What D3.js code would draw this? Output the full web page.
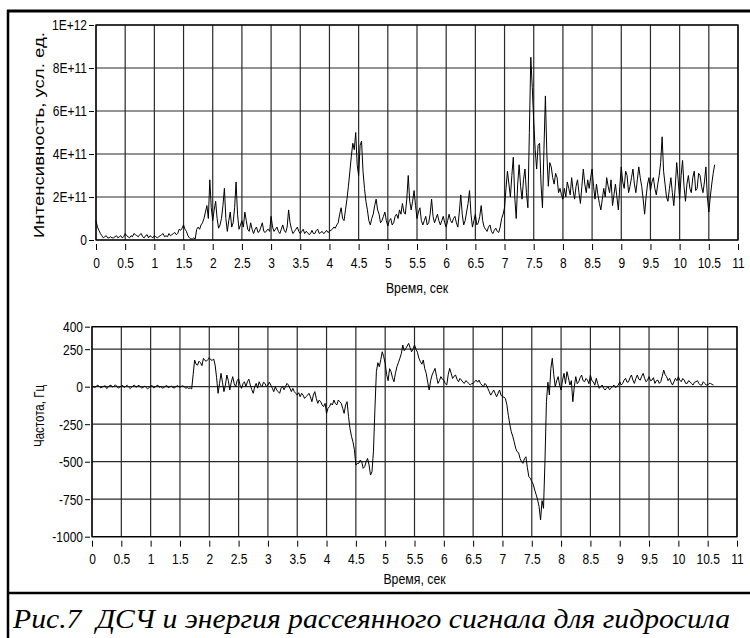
<!DOCTYPE html>
<html>
<head>
<meta charset="utf-8">
<script src="https://cdn.jsdelivr.net/npm/d3@7"></script>
<style>
  body { margin: 0; background: #fff; }
  svg { display: block; }
  .tick text { font-family: "Liberation Sans", Arial, sans-serif; font-size: 15px; fill: #000; }
  .tick line { stroke: #000; stroke-width: 1; }
  .axis-title { font-family: "Liberation Sans", Arial, sans-serif; font-size: 15px; fill: #000; }
</style>
</head>
<body>
<svg id="fig" width="750" height="638"></svg>
<script>
// Sampling interval of both recorded signals, seconds
const sampleStep = 0.025;

// Scattered signal intensity, in units of 1E+11 (arb. units)
const intensity = [
  0.9, 0.6, 0.45, 0.3, 0.2, 0.1, 0.15, 0.2, 0.1, 0.1, 0.15, 0.1, 0.1, 0.15, 0.2, 0.1, 0.15, 0.2, 0.1, 0.15,
  0.3, 0.2, 0.15, 0.1, 0.2, 0.15, 0.3, 0.25, 0.2, 0.15, 0.25, 0.3, 0.15, 0.1, 0.2, 0.25, 0.1, 0.2, 0.15, 0.1,
  0.2, 0.15, 0.1, 0.15, 0.2, 0.25, 0.3, 0.15, 0.2, 0.15, 0.3, 0.2, 0.25, 0.3, 0.35, 0.25, 0.3, 0.5, 0.45, 0.55,
  0.7, 0.5, 0.4, 0.2, 0.1, 0.05, 0.05, 0.1, 0.05, 0.5, 0.6, 0.5, 0.7, 0.8, 1.0, 1.3, 1.6, 1.0, 2.8, 1.5,
  0.9, 1.4, 1.8, 1.0, 0.55, 0.7, 1.0, 1.6, 2.4, 1.0, 0.4, 0.9, 1.3, 0.6, 0.8, 1.5, 2.7, 1.2, 0.5, 0.7,
  0.9, 0.6, 1.3, 0.9, 0.5, 0.4, 0.8, 0.5, 0.3, 0.5, 0.6, 0.35, 0.4, 0.6, 0.8, 0.4, 0.35, 0.45, 0.5, 0.4,
  1.1, 0.6, 0.4, 0.5, 0.6, 0.4, 0.3, 0.5, 0.7, 0.45, 0.35, 0.6, 1.4, 0.8, 0.5, 0.3, 0.4, 0.5, 0.6, 0.4,
  0.3, 0.4, 0.5, 0.3, 0.4, 0.35, 0.25, 0.3, 0.45, 0.3, 0.3, 0.45, 0.5, 0.3, 0.35, 0.4, 0.3, 0.35, 0.45, 0.35,
  0.4, 0.45, 0.5, 0.6, 0.55, 0.7, 0.8, 1.2, 1.5, 1.0, 0.9, 1.4, 1.9, 2.5, 3.2, 3.9, 4.5, 4.2, 5.0, 3.5,
  3.0, 4.4, 4.6, 3.2, 2.4, 1.8, 1.4, 0.9, 0.7, 1.0, 1.2, 1.6, 1.9, 1.4, 1.2, 0.8, 0.9, 1.1, 1.3, 0.9,
  0.65, 0.9, 1.0, 0.7, 0.8, 1.1, 1.2, 1.0, 1.4, 1.2, 1.7, 1.3, 1.2, 1.9, 3.0, 1.8, 1.4, 1.8, 2.3, 1.6,
  1.0, 1.3, 1.5, 0.9, 0.7, 0.9, 1.1, 0.7, 0.8, 1.2, 1.9, 1.1, 0.8, 1.0, 1.2, 0.9, 0.7, 0.9, 1.1, 0.8,
  0.6, 0.9, 1.2, 0.9, 0.8, 1.0, 1.1, 0.8, 0.6, 1.3, 2.1, 1.2, 0.7, 0.9, 1.3, 1.7, 2.3, 1.2, 0.6, 0.9,
  1.2, 0.7, 0.8, 1.1, 1.6, 0.9, 0.6, 0.5, 0.4, 0.6, 0.7, 0.4, 0.3, 0.45, 0.55, 0.4, 0.35, 0.6, 1.0, 1.2,
  1.5, 2.4, 3.2, 2.6, 2.0, 3.0, 3.85, 2.0, 1.0, 2.6, 3.5, 2.5, 1.9, 2.8, 3.3, 2.2, 1.5, 5.0, 8.5, 7.1,
  5.5, 4.2, 3.3, 4.4, 4.5, 2.6, 1.5, 4.2, 6.7, 4.0, 2.5, 3.6, 3.4, 2.9, 2.6, 3.1, 2.9, 2.2, 2.4, 2.1,
  1.9, 2.4, 2.0, 2.7, 2.4, 2.1, 2.9, 2.3, 1.9, 2.5, 2.8, 2.2, 1.7, 2.5, 3.3, 2.6, 2.2, 2.8, 2.4, 2.9,
  3.3, 2.5, 1.9, 2.6, 2.1, 1.7, 1.4, 1.9, 2.4, 2.0, 2.9, 2.5, 2.2, 2.8, 1.6, 2.1, 2.6, 2.0, 1.4, 2.5,
  3.4, 2.7, 2.4, 3.2, 3.0, 2.2, 2.5, 2.9, 3.3, 2.6, 2.2, 2.8, 3.4, 2.9, 2.5, 1.9, 1.2, 2.0, 2.6, 2.9,
  2.3, 2.7, 2.9, 2.4, 2.1, 2.6, 3.0, 3.6, 4.8, 3.2, 2.6, 2.0, 1.8, 2.4, 2.9, 2.2, 1.6, 2.5, 3.6, 2.8,
  1.9, 3.0, 3.7, 2.5, 1.8, 2.6, 3.0, 2.4, 2.2, 2.9, 3.2, 2.3, 2.4, 3.1, 3.0, 2.5, 2.2, 2.7, 3.4, 2.0,
  1.3, 2.0, 2.6, 3.1, 3.5
];
const intensityUnit = 1e11;

// Doppler frequency shift, Hz
const frequency = [
  5, -2, -5, 4, 10, 2, -8, -3, 3, 6, -12, -4, 8, 10, -3, 4, 12, 2, -10, -2,
  5, 8, -6, 2, 9, -3, -12, -5, 6, 10, -4, 3, 10, -2, -9, -4, 4, -6, -14, -5,
  2, 8, -8, -2, 6, 10, -5, 2, -10, -6, 3, 8, -7, -2, 5, -4, -9, -3, 8, 2,
  -4, 3, 6, -2, -10, -6, -12, -8, -15, 80, 178, 150, 144, 170, 160, 140, 189, 175, 170, 180,
  193, 180, 175, 185, 144, 60, -44, 20, 89, 30, -33, 10, 78, 40, -22, 30, 67, 20, 0, 40,
  55, 10, -11, 20, 33, 0, 33, 50, 11, -20, -44, 0, 22, -10, 33, 10, 0, 30, 22, 0,
  11, 30, 11, -10, -33, 0, -22, -33, -44, -10, 0, -20, 0, 22, 11, -10, -33, -11, -33, -44,
  -56, -40, -67, -44, -56, -78, -67, -56, -44, -67, -100, -56, -33, -78, -111, -89, -100, -122, -133, -111,
  -178, -144, -133, -111, -122, -89, -111, -122, -89, -100, -111, -144, -178, -122, -100, -200, -280, -330, -367, -420,
  -522, -511, -511, -489, -500, -544, -533, -500, -478, -522, -589, -566, -430, -150, 100, 160, 133, 180, 233, 200,
  156, 80, 40, 120, 100, 60, 33, 90, 133, 160, 189, 220, 278, 240, 255, 270, 289, 260, 233, 250,
  278, 250, 230, 190, 167, 150, 178, 120, 89, 30, -22, 40, 78, 100, 122, 70, 22, 40, 67, 50,
  44, 20, 11, 80, 122, 90, 55, 70, 78, 50, 33, 55, 44, 30, 22, 40, 33, 22, 11, 20,
  22, 33, 44, 30, 44, 22, 11, 0, 22, 11, -11, -33, -56, -40, -22, -44, -67, -44, -22, -56,
  -67, -70, -78, -120, -190, -250, -300, -330, -367, -410, -433, -440, -478, -500, -511, -480, -467, -540, -600, -610,
  -633, -650, -689, -720, -755, -800, -888, -760, -811, -500, -100, 30, -55, 120, 189, 80, 0, 40, 67, 10,
  -22, 44, 89, 20, 100, 60, 11, 40, -100, 0, 67, 20, 33, 60, 78, 40, 33, 55, 44, 20,
  78, 40, 33, 10, 56, 20, -11, 0, 11, -11, -22, -10, 0, -20, -11, 0, 11, -5, 0, 11,
  33, 11, 22, 44, 56, 30, 33, 60, 78, 44, 22, 55, 78, 50, 44, 70, 89, 55, 33, 44,
  67, 40, 44, 60, 22, 40, 44, 22, 33, 70, 111, 80, 67, 40, 56, 30, 11, 33, 56, 40,
  67, 44, 33, 55, 44, 22, 22, 40, 33, 20, 11, 30, 33, 40, 22, 11, 11, 33, 22, 11,
  11, 22, 22, 15, 11
];

// Axis ticks and their labels
const timeTicks = [0, 0.5, 1, 1.5, 2, 2.5, 3, 3.5, 4, 4.5, 5, 5.5, 6, 6.5, 7, 7.5, 8, 8.5, 9, 9.5, 10, 10.5, 11];
const timeTickLabels = ["0", "0.5", "1", "1.5", "2", "2.5", "3", "3.5", "4", "4.5", "5", "5.5", "6", "6.5", "7", "7.5", "8", "8.5", "9", "9.5", "10", "10.5", "11"];
const intensityTicks = [0, 2e11, 4e11, 6e11, 8e11, 1e12];
const intensityTickLabels = ["0", "2E+11", "4E+11", "6E+11", "8E+11", "1E+12"];
const frequencyTicks = [-1000, -750, -500, -250, 0, 250, 400];
const frequencyTickLabels = ["-1000", "-750", "-500", "-250", "0", "250", "400"];

const timeLabel = "Время, сек";
const intensityLabel = "Интенсивность, усл. ед.";
const frequencyLabel = "Частота, Гц";
const caption = "Рис.7  ДСЧ и энергия рассеянного сигнала для гидросила";

const svg = d3.select("#fig");

// Outer frame and caption separator
svg.append("line").attr("x1", 8).attr("x2", 8).attr("y1", 10).attr("y2", 638)
  .attr("stroke", "#000").attr("stroke-width", 2.5);
svg.append("line").attr("x1", 7).attr("x2", 750).attr("y1", 11).attr("y2", 11)
  .attr("stroke", "#000").attr("stroke-width", 3);
svg.append("line").attr("x1", 7).attr("x2", 750).attr("y1", 593).attr("y2", 593)
  .attr("stroke", "#000").attr("stroke-width", 2.5);

// squeeze a text node horizontally to the narrow lettering of the plotting software
function condense(sel, k) {
  sel.each(function () {
    const w = this.getComputedTextLength();
    d3.select(this).attr("textLength", w * k).attr("lengthAdjust", "spacingAndGlyphs");
  });
}

function panel(opts) {
  const { left, right, top, bottom, yDomain, yTicks, yTickLabels, values, scale,
          yTitle, yTitleX, yTitleY, yTitleLen, xTitleOffset } = opts;
  const x = d3.scaleLinear().domain([0, 11]).range([left, right]);
  const y = d3.scaleLinear().domain(yDomain).range([bottom, top]);
  const g = svg.append("g");

  // grid
  const grid = g.append("g").attr("stroke", "#2a2a2a").attr("stroke-width", 1.2);
  grid.selectAll("line.v").data(timeTicks).join("line")
    .attr("x1", d => x(d)).attr("x2", d => x(d))
    .attr("y1", top).attr("y2", bottom);
  grid.selectAll("line.h").data(yTicks).join("line")
    .attr("x1", left).attr("x2", right)
    .attr("y1", d => y(d)).attr("y2", d => y(d));

  // data trace
  const pts = values.map((v, i) => [i * sampleStep, v * scale]);
  g.append("path").datum(pts)
    .attr("fill", "none").attr("stroke", "#000").attr("stroke-width", 1)
    .attr("stroke-linejoin", "round")
    .attr("d", d3.line().x(d => x(d[0])).y(d => y(d[1])));

  // plot border
  g.append("rect").attr("x", left).attr("y", top)
    .attr("width", right - left).attr("height", bottom - top)
    .attr("fill", "none").attr("stroke", "#000").attr("stroke-width", 1.3);

  // axes with detached tick marks
  const xa = g.append("g").attr("transform", `translate(0,${bottom + 4})`)
    .call(d3.axisBottom(x).tickValues(timeTicks)
      .tickFormat((d, i) => timeTickLabels[i]).tickSize(6).tickPadding(7));
  xa.select(".domain").remove();
  condense(xa.selectAll("text"), 0.8);

  const ya = g.append("g").attr("transform", `translate(${left - 2},0)`)
    .call(d3.axisLeft(y).tickValues(yTicks)
      .tickFormat((d, i) => yTickLabels[i]).tickSize(5).tickPadding(2));
  ya.select(".domain").remove();
  condense(ya.selectAll("text"), 0.8);

  const xt = g.append("text").attr("class", "axis-title")
    .attr("x", (left + right) / 2).attr("y", bottom + xTitleOffset)
    .attr("text-anchor", "middle").attr("dominant-baseline", "middle")
    .text(timeLabel);
  condense(xt, 0.82);

  g.append("text").attr("class", "axis-title")
    .attr("transform", `translate(${yTitleX},${yTitleY}) rotate(-90)`)
    .attr("text-anchor", "middle").attr("dominant-baseline", "middle")
    .attr("textLength", yTitleLen).attr("lengthAdjust", "spacingAndGlyphs")
    .text(yTitle);
}

panel({
  left: 96, right: 738, top: 25, bottom: 240,
  yDomain: [0, 1e12], yTicks: intensityTicks, yTickLabels: intensityTickLabels,
  values: intensity, scale: intensityUnit,
  yTitle: intensityLabel, yTitleX: 40, yTitleY: 135, yTitleLen: 206, xTitleOffset: 49
});

panel({
  left: 92, right: 737, top: 326.7, bottom: 536.7,
  yDomain: [-1000, 400], yTicks: frequencyTicks, yTickLabels: frequencyTickLabels,
  values: frequency, scale: 1,
  yTitle: frequencyLabel, yTitleX: 40, yTitleY: 416, yTitleLen: 62, xTitleOffset: 43
});

// Figure caption
svg.append("text")
  .attr("x", 13).attr("y", 628)
  .attr("font-family", "'Liberation Serif', 'DejaVu Serif', serif")
  .attr("font-style", "italic").attr("font-size", 28)
  .attr("fill", "#000")
  .attr("textLength", 717).attr("lengthAdjust", "spacingAndGlyphs")
  .style("white-space", "pre")
  .text(caption);
</script>
</body>
</html>
